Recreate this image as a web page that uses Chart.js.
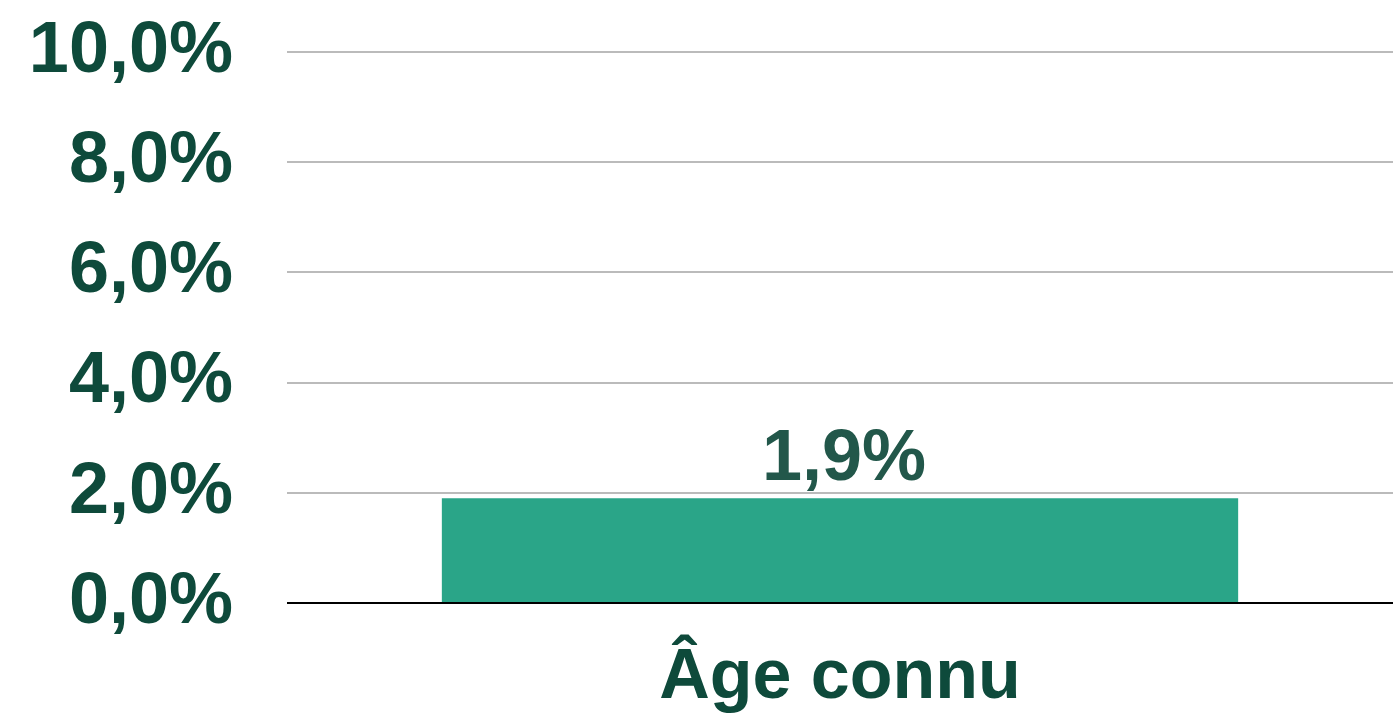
<!DOCTYPE html>
<html>
<head>
<meta charset="utf-8">
<script src="https://cdn.jsdelivr.net/npm/chart.js@4/dist/chart.umd.min.js"></script>
<style>
  html, body { margin: 0; padding: 0; background: #fff; }
  #wrap { width: 1393px; height: 717px; }
</style>
</head>
<body>
<div id="wrap"><canvas id="chart"></canvas></div>
<script>
const categories = ["Âge connu"];
const values = [1.9];
const valueLabels = ["1,9%"];
const yTickValues = [0, 2, 4, 6, 8, 10];
const yTickLabels = ["0,0%", "2,0%", "4,0%", "6,0%", "8,0%", "10,0%"];

const darkGreen = "#0e4a3b";
const fontFamily = "'Liberation Sans', Arial, sans-serif";

// draws the value above each bar
const barLabels = {
  id: "barLabels",
  afterDatasetsDraw(chart) {
    const ctx = chart.ctx;
    const meta = chart.getDatasetMeta(0);
    ctx.save();
    ctx.fillStyle = "#22574a";
    ctx.font = "bold 72px " + fontFamily;
    ctx.textAlign = "center";
    ctx.textBaseline = "alphabetic";
    meta.data.forEach((bar, i) => {
      ctx.fillText(valueLabels[i], bar.x + 4, bar.y - 18);
    });
    ctx.restore();
  }
};

new Chart(document.getElementById("chart"), {
  type: "bar",
  data: {
    labels: categories,
    datasets: [{
      data: values,
      backgroundColor: "#2aa588",
      barPercentage: 0.72,
      categoryPercentage: 1.0
    }]
  },
  options: {
    responsive: true,
    maintainAspectRatio: false,
    animation: false,
    layout: { padding: 0 },
    plugins: {
      legend: { display: false },
      tooltip: { enabled: false }
    },
    scales: {
      x: {
        grid: { display: false },
        border: { display: false },
        ticks: {
          color: darkGreen,
          font: { family: fontFamily, size: 70, weight: "bold" },
          padding: 26
        },
        afterFit(scale) { scale.height = 114; }
      },
      y: {
        min: 0,
        max: 10,
        afterBuildTicks(scale) {
          scale.ticks = yTickValues.map(v => ({ value: v }));
        },
        grid: {
          drawTicks: false,
          lineWidth: 2,
          color: ctx => ctx.tick && ctx.tick.value === 0 ? "#000" : "#bbbbbb"
        },
        border: { display: false },
        ticks: {
          color: darkGreen,
          font: { family: fontFamily, size: 72, weight: "bold" },
          padding: 54,
          callback: (v) => yTickLabels[yTickValues.indexOf(v)]
        },
        afterFit(scale) {
          scale.width = 287;
          scale.paddingTop = 52;
          scale.paddingBottom = 0;
        }
      }
    }
  },
  plugins: [barLabels]
});
</script>
</body>
</html>
